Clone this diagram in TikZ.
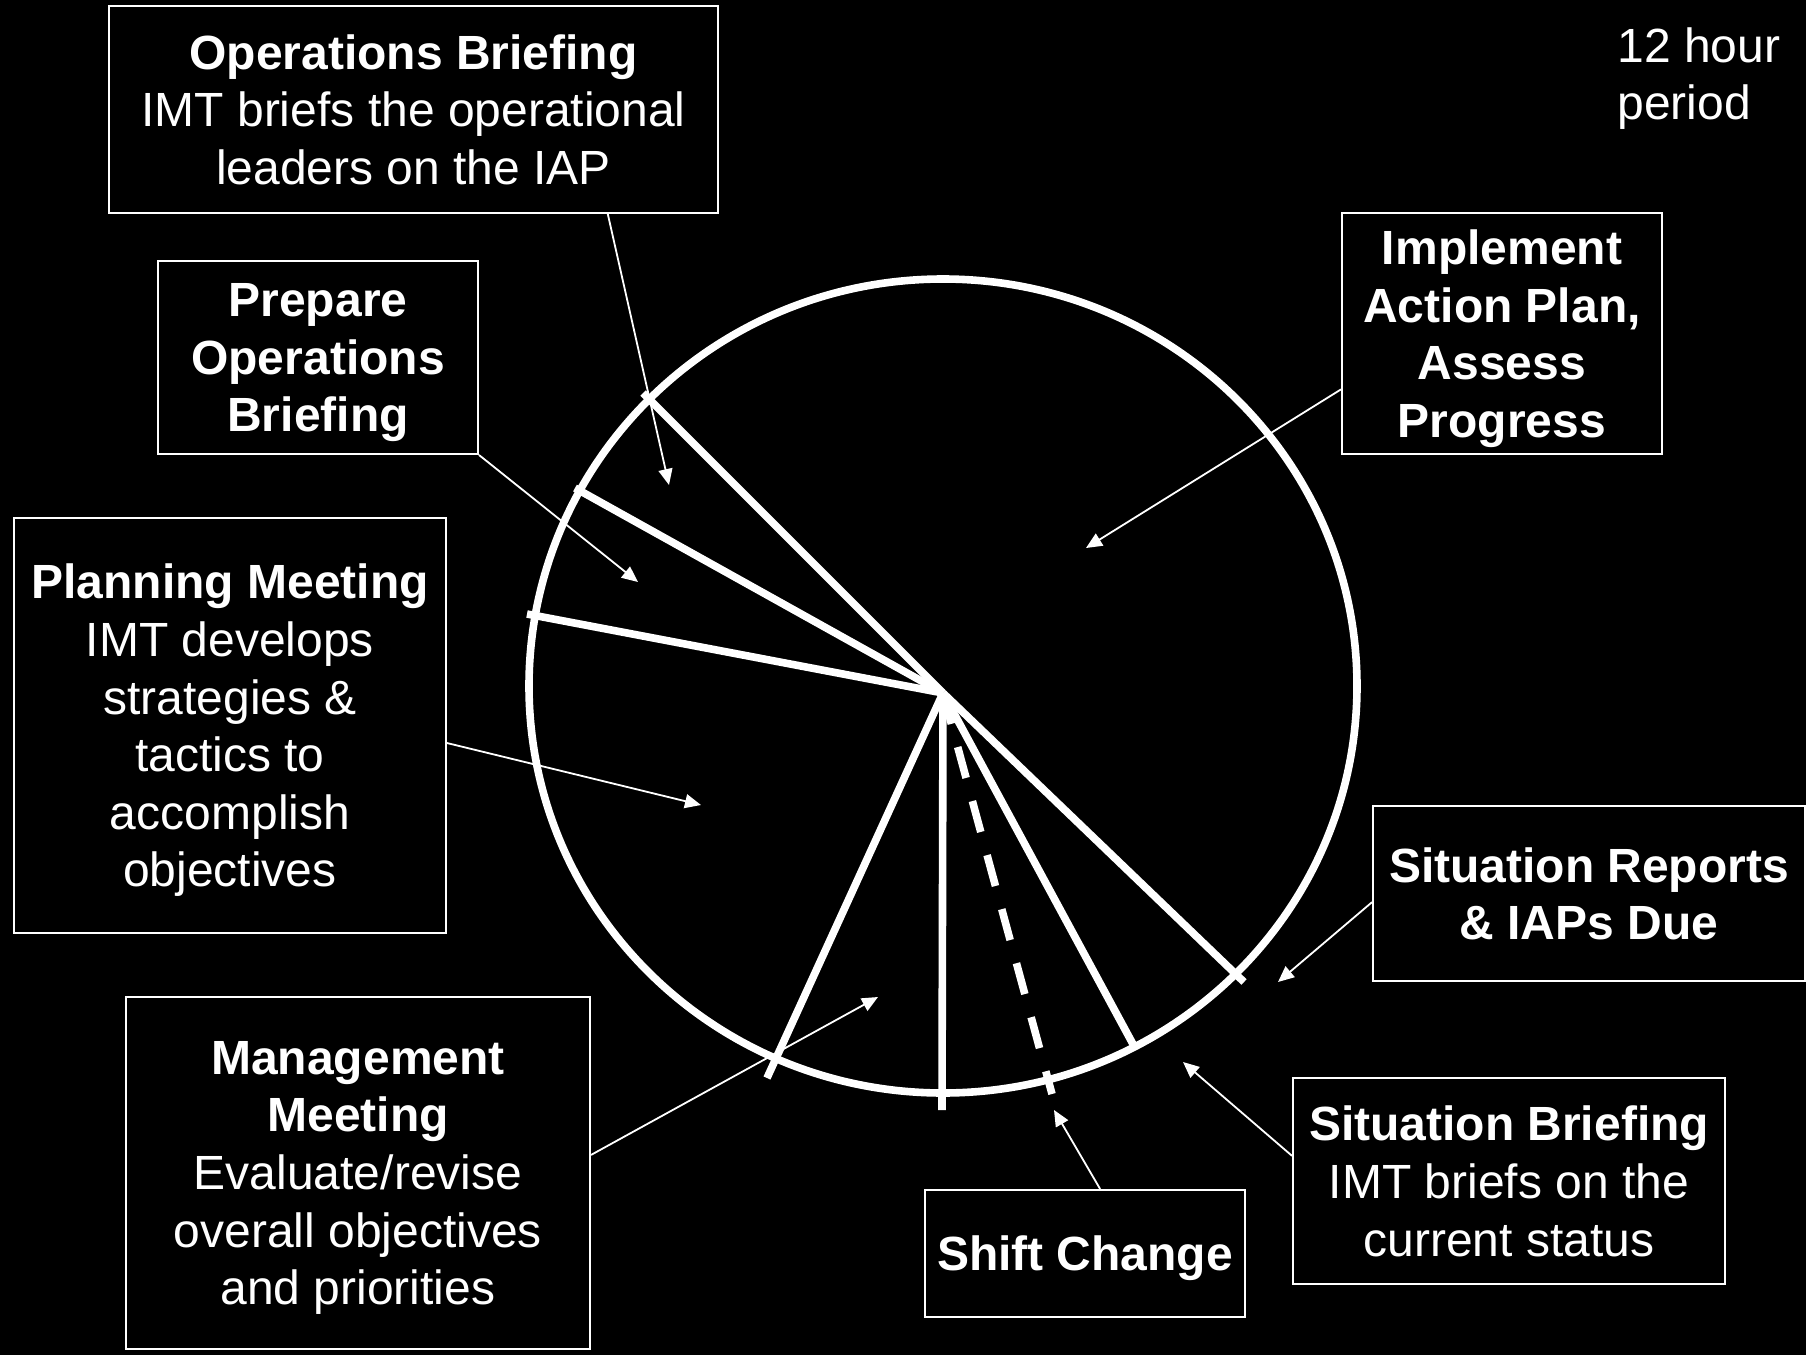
\documentclass[tikz,border=0pt]{standalone}
\usepackage{fontspec}
\setmainfont{Liberation Sans}
\usetikzlibrary{arrows.meta,calc}
\tikzset{
  box/.style={draw=white, line width=1pt, text=white, align=center, inner sep=0pt,
    text depth=-2pt, font=\fontsize{24}{28.8}\selectfont},
  boldbox/.style={box, font=\fontsize{24}{28.8}\selectfont\bfseries},
  spoke/.style={draw=white, line width=3.8pt},
  ring/.style={draw=white, line width=3.8pt},
  pointer/.style={draw=white, line width=0.9pt, -{Triangle[length=8pt,width=7pt]}},
}
\begin{document}
\begin{tikzpicture}[x=0.5pt,y=-0.5pt]
\fill[black] (0,0) rectangle (1806,1355);
\useasboundingbox (0,0) rectangle (1806,1355);

% circle and spokes
\draw[ring] (943,686) ellipse [x radius=414, y radius=407];
\coordinate (c) at (943,693);
\coordinate (e1) at (643,393);
\coordinate (e2) at (575,488);
\coordinate (e3) at (527,614);
\coordinate (e4) at (767,1078);
\coordinate (e5) at (942,1110);
\coordinate (e6) at (1052,1094);
\coordinate (e7) at (1134,1046);
\coordinate (e8) at (1244,982);
\foreach \e in {e1,e2,e3,e4,e5,e7,e8} \draw[spoke] (c) -- (\e);
\draw[spoke, dash pattern=on 16pt off 12pt] (c) -- (e6);

% boxes
\node[box, minimum width=304.5pt, minimum height=103.5pt] (ops) at (413.5,109.5)
  {\textbf{Operations Briefing}\\IMT briefs the operational\\leaders on the IAP};
\node[boldbox, minimum width=160pt, minimum height=96.5pt] (prep) at (318,357.5)
  {Prepare\\Operations\\Briefing};
\node[box, minimum width=216pt, minimum height=207.5pt] (plan) at (230,725.5)
  {\textbf{Planning Meeting}\\IMT develops\\strategies \&\\tactics to\\accomplish\\objectives};
\node[box, minimum width=232pt, minimum height=176pt] (mgmt) at (358,1173)
  {\textbf{Management}\\\textbf{Meeting}\\Evaluate/revise\\overall objectives\\and priorities};
\node[boldbox, minimum width=160pt, minimum height=63.5pt] (shift) at (1085,1253.5)
  {Shift Change};
\node[box, minimum width=216pt, minimum height=103pt] (sitb) at (1509,1181)
  {\textbf{Situation Briefing}\\IMT briefs on the\\current status};
\node[boldbox, minimum width=216pt, minimum height=87.5pt] (sitr) at (1589,893.5)
  {Situation Reports\\\& IAPs Due};
\node[boldbox, minimum width=160pt, minimum height=120.5pt] (impl) at (1502,333.5)
  {Implement\\Action Plan,\\Assess\\Progress};
\node[text=white, align=left, anchor=north west, inner sep=0pt,
  font=\fontsize{24}{28.8}\selectfont] (period) at (1617,27) {12 hour\\period};

% arrow tips
\coordinate (t1) at (669,485);
\coordinate (t2) at (638,582);
\coordinate (t3) at (701,805);
\coordinate (t4) at (878,997);
\coordinate (t5) at (1054,1110);
\coordinate (t6) at (1183,1062);
\coordinate (t7) at (1278,982);
\coordinate (t8) at (1086,548);

\draw[pointer] ($(ops.south west)!0.818!(ops.south east)$) -- (t1);
\draw[pointer] (prep.south east) -- (t2);
\draw[pointer] ($(plan.north east)!0.542!(plan.south east)$) -- (t3);
\draw[pointer] ($(mgmt.north east)!0.449!(mgmt.south east)$) -- (t4);
\draw[pointer] ($(shift.north west)!0.547!(shift.north east)$) -- (t5);
\draw[pointer] ($(sitb.north west)!0.379!(sitb.south west)$) -- (t6);
\draw[pointer] ($(sitr.north west)!0.549!(sitr.south west)$) -- (t7);
\draw[pointer] ($(impl.north west)!0.73!(impl.south west)$) -- (t8);
\end{tikzpicture}
\end{document}
